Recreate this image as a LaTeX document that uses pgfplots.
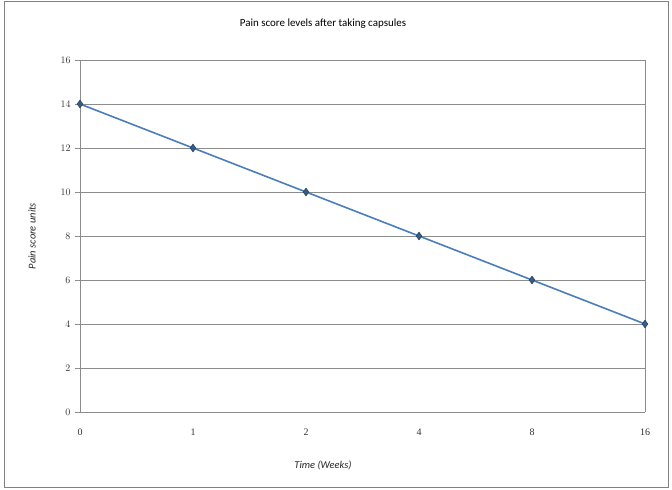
\documentclass[border=0pt]{standalone}
\usepackage{pgfplots}
\pgfplotsset{compat=1.18}
\usepackage{fontspec}
\setmainfont{Carlito}
\newfontfamily\tickfont{Liberation Serif}
\definecolor{linecol}{RGB}{74,126,187}
\definecolor{markcol}{RGB}{56,93,138}
\definecolor{gridcol}{RGB}{140,140,140}
\definecolor{framecol}{RGB}{130,130,130}
\begin{document}
\begin{tikzpicture}[x=1bp,y=1bp]
\useasboundingbox (0,0) rectangle (672,490);
\fill[white] (0,0) rectangle (672,490);
\draw[framecol,line width=1bp] (4,2) rectangle (668,488);
\begin{axis}[
  at={(80bp,78bp)}, anchor=south west,
  scale only axis,
  width=565bp, height=352bp,
  xmin=0, xmax=5, ymin=0, ymax=16,
  xtick={0,...,5},
  xticklabels={0,1,2,4,8,16},
  ytick={0,2,...,16},
  ymajorgrids,
  grid style={gridcol, line width=0.8bp},
  axis line style={gridcol, line width=0.8bp},
  axis x line*=bottom,
  axis y line*=left,
  x axis line style={-},
  y axis line style={-},
  major tick length=5bp,
  xtick style={draw=none},
  ytick style={gridcol, line width=0.8bp},
  tick align=outside,
  ticklabel style={font=\tickfont\fontsize{10}{11}\selectfont, text=black!80},
  yticklabel style={xshift=-1bp},
  xticklabel style={yshift=-8bp},
  title={Pain score levels after taking capsules},
  title style={font=\fontsize{11}{13}\selectfont, at={(axis description cs:0.43,1)}, anchor=center, yshift=30bp},
  xlabel={Time (Weeks)},
  ylabel={Pain score units},
  label style={font=\itshape\fontsize{10.5}{12}\selectfont, text=black!85},
  xlabel style={at={(axis description cs:0.43,-0.153)}, anchor=center},
  ylabel style={at={(axis description cs:-0.085,0.5)}, anchor=center, rotate=0},
  clip=false,
]
\draw[gridcol, line width=0.8bp] (axis cs:5,0) -- (axis cs:5,16);
\addplot[linecol, line width=1.6bp, mark=diamond*,
  mark size=3.8bp, mark options={fill=markcol, draw=markcol!70!black, line width=0.6bp}]
  coordinates {(0,14) (1,12) (2,10) (3,8) (4,6) (5,4)};
\end{axis}
\end{tikzpicture}
\end{document}
